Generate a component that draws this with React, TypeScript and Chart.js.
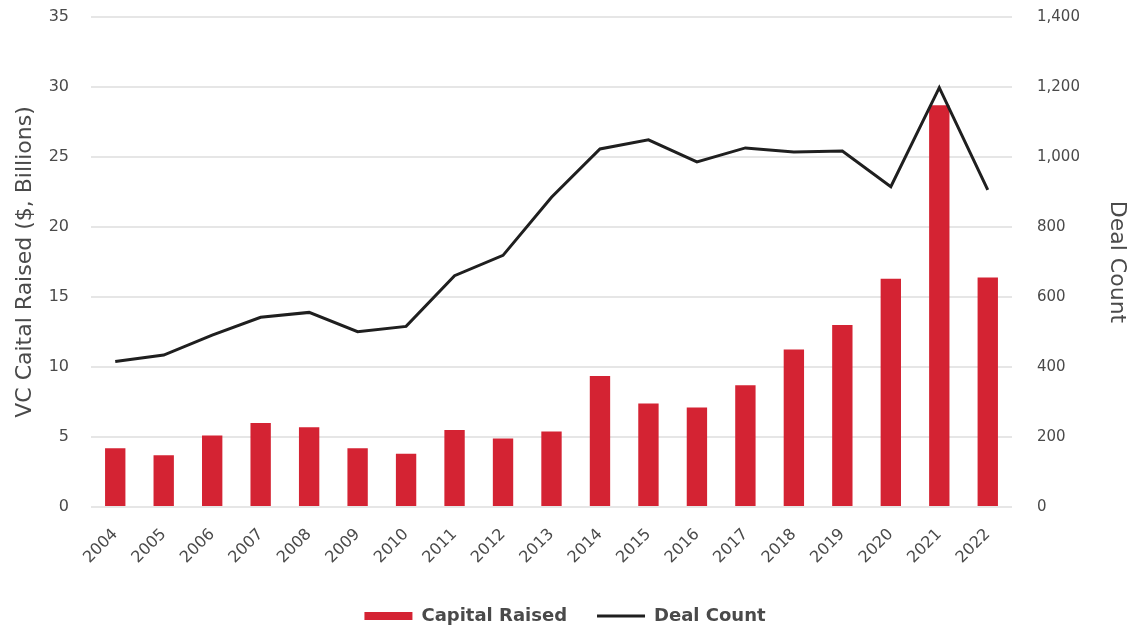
import React, { useEffect, useRef } from "react";
import { Chart, registerables } from "chart.js";

Chart.register(...registerables);

const years = ["2004","2005","2006","2007","2008","2009","2010","2011","2012","2013","2014","2015","2016","2017","2018","2019","2020","2021","2022"];
const capitalRaised = [4.2, 3.7, 5.1, 6.0, 5.7, 4.2, 3.8, 5.5, 4.9, 5.4, 9.35, 7.4, 7.1, 8.7, 11.25, 13.0, 16.3, 28.7, 16.4];
const dealCount = [416, 434, 491, 542, 556, 501, 516, 661, 719, 885, 1023, 1049, 986, 1026, 1014, 1017, 915, 1198, 906];

const RED = "#d42333";
const LINE = "#1f1f1f";
const TEXT = "#4a4a4a";
const FONT = "'DejaVu Sans', 'Open Sans', sans-serif";

export default function App() {
  const ref = useRef<HTMLCanvasElement | null>(null);

  useEffect(() => {
    document.body.style.margin = "0";
    const ctx = ref.current!.getContext("2d")!;
    const chart = new Chart(ctx, {
      type: "bar",
      data: {
        labels: years,
        datasets: [
          {
            type: "bar",
            label: "Capital Raised",
            data: capitalRaised,
            backgroundColor: RED,
            borderWidth: 0,
            yAxisID: "y",
            categoryPercentage: 1,
            barPercentage: 0.42,
            order: 1,
          },
          {
            type: "line",
            label: "Deal Count",
            data: dealCount,
            borderColor: LINE,
            backgroundColor: LINE,
            borderWidth: 3,
            pointRadius: 0,
            tension: 0,
            yAxisID: "y1",
            order: 0,
          },
        ],
      },
      options: {
        animation: false,
        responsive: false,
        maintainAspectRatio: false,
        layout: { padding: { top: 17, left: 0, right: 0, bottom: -6 } },
        plugins: {
          tooltip: { enabled: false },
          legend: {
            position: "bottom",
            labels: {
              usePointStyle: true,
              pointStyleWidth: 48,
              boxHeight: 8,
              padding: 30,
              color: TEXT,
              font: { family: FONT, size: 18, weight: "bold" },
              generateLabels: (c: any) =>
                c.data.datasets.map((ds: any, i: number) => ({
                  text: ds.label,
                  fillStyle: i === 0 ? RED : LINE,
                  strokeStyle: i === 0 ? RED : LINE,
                  lineWidth: i === 0 ? 0 : 3,
                  pointStyle: i === 0 ? "rect" : "line",
                  hidden: false,
                  datasetIndex: i,
                  fontColor: TEXT,
                })),
            },
          },
        },
        scales: {
          x: {
            grid: { display: false },
            border: { display: false },
            ticks: {
              color: TEXT,
              font: { family: FONT, size: 16 },
              minRotation: 45,
              maxRotation: 45,
              padding: 10,
            },
            afterFit: (s: any) => { s.height = 70; },
          },
          y: {
            position: "left",
            min: 0,
            max: 35,
            ticks: {
              stepSize: 5,
              color: TEXT,
              font: { family: FONT, size: 16 },
              padding: 0,
            },
            grid: { color: "#e6e6e6", lineWidth: 2, drawTicks: true, tickLength: 22, tickColor: "rgba(0,0,0,0)" },
            border: { display: false },
            title: {
              display: true,
              text: "VC Caital Raised ($, Billions)",
              color: TEXT,
              font: { family: FONT, size: 22 },
              padding: { top: 12, bottom: 0 },
            },
            afterFit: (s: any) => { s.width = 91; },
          },
          y1: {
            position: "right",
            min: 0,
            max: 1400,
            ticks: {
              stepSize: 200,
              color: TEXT,
              font: { family: FONT, size: 15 },
              padding: 0,
              callback: (v: any) => Number(v).toLocaleString("en-US"),
            },
            grid: { display: true, drawOnChartArea: false, drawTicks: true, tickLength: 25, tickColor: "rgba(0,0,0,0)", color: "rgba(0,0,0,0)" },
            border: { display: false },
            title: {
              display: true,
              text: "Deal Count",
              color: TEXT,
              font: { family: FONT, size: 22 },
              padding: { top: 0, bottom: 4 },
            },
            afterFit: (s: any) => { s.width = 118; },
          },
        },
      },
    });
    return () => chart.destroy();
  }, []);

  return (
    <div style={{ position: "absolute", left: 0, top: 0, width: 1130, height: 629, background: "#fff" }}>
      <canvas ref={ref} width={1130} height={629} style={{ width: 1130, height: 629 }} />
    </div>
  );
}
